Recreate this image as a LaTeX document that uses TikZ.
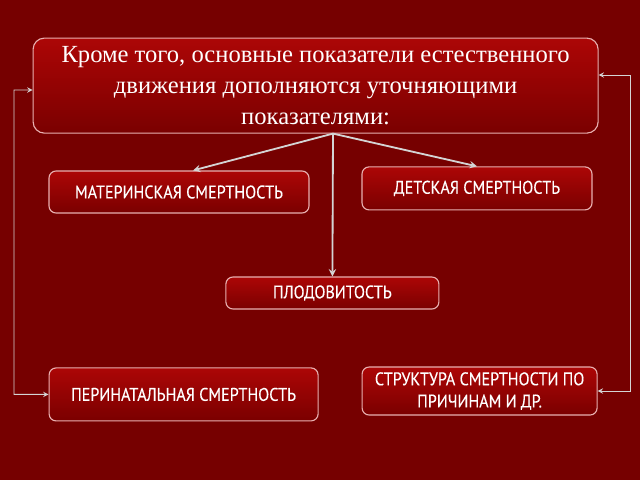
\documentclass[tikz,border=0pt]{standalone}
\usepackage{fontspec}
\setmainfont{Liberation Serif}
\newfontfamily\boxfont[FakeStretch=0.88,FakeBold=0.25]{PT Sans}
\usepackage{xcolor}
\usetikzlibrary{calc}
\definecolor{bg}{HTML}{760000}
\definecolor{boxtop}{HTML}{AC0606}
\definecolor{boxbot}{HTML}{7A0000}
\definecolor{rim}{HTML}{E8B0B0}
\definecolor{wire}{HTML}{D4D4D4}
\tikzset{
  card/.style={draw=rim, line width=0.8pt, rounded corners=5pt,
    top color=boxtop, bottom color=boxbot, text=white, align=center,
    inner sep=0pt, font=\boxfont\fontsize{13}{15.8}\selectfont},
  headcard/.style={card, rounded corners=8pt,
    font=\rmfamily\fontsize{17.5}{22}\selectfont},
  link/.style={draw=wire, line width=1.3pt, ->, >=stealth},
  side/.style={draw=wire, line width=0.7pt, <->, >=stealth}
}

\begin{document}
\begin{tikzpicture}
  \fill[bg] (0,0) rectangle (16,-12);
  \useasboundingbox (0,0) rectangle (16,-12);

  \node[headcard, minimum width=14.125cm, minimum height=2.375cm] (head) at (7.89,-2.14)
    {Кроме того, основные показатели естественного\\движения дополняются уточняющими\\показателями:};
  \node[card, minimum width=6.5cm, minimum height=1.05cm] (mat) at (4.475,-4.8) {МАТЕРИНСКАЯ СМЕРТНОСТЬ};
  \node[card, minimum width=5.75cm, minimum height=1.075cm] (child) at (11.925,-4.71) {ДЕТСКАЯ СМЕРТНОСТЬ};
  \node[card, minimum width=5.325cm, minimum height=0.8cm] (fert) at (8.31,-7.325) {ПЛОДОВИТОСТЬ};
  \node[card, minimum width=6.725cm, minimum height=1.325cm] (peri) at (4.59,-9.86) {ПЕРИНАТАЛЬНАЯ СМЕРТНОСТЬ};
  \node[card, minimum width=5.875cm, minimum height=1.2cm] (cause) at (11.99,-9.775) {СТРУКТУРА СМЕРТНОСТИ ПО\\ПРИЧИНАМ И ДР.};

  % arrows from the heading
  \coordinate (hub) at (8.325,-3.34);
  \draw[link] (hub) -- ($(mat.north)+(0.35,0)$);
  \draw[link] (hub) -- (child.north);
  \draw[link] (hub) -- (fert.north);

  % side connectors
  \draw[side] ($(head.west)+(0,-0.11)$) -- (0.35,-2.25) |- (peri.west);
  \draw[side] ($(head.east)+(0,0.265)$) -- (15.75,-1.875) |- (cause.east);
\end{tikzpicture}
\end{document}
